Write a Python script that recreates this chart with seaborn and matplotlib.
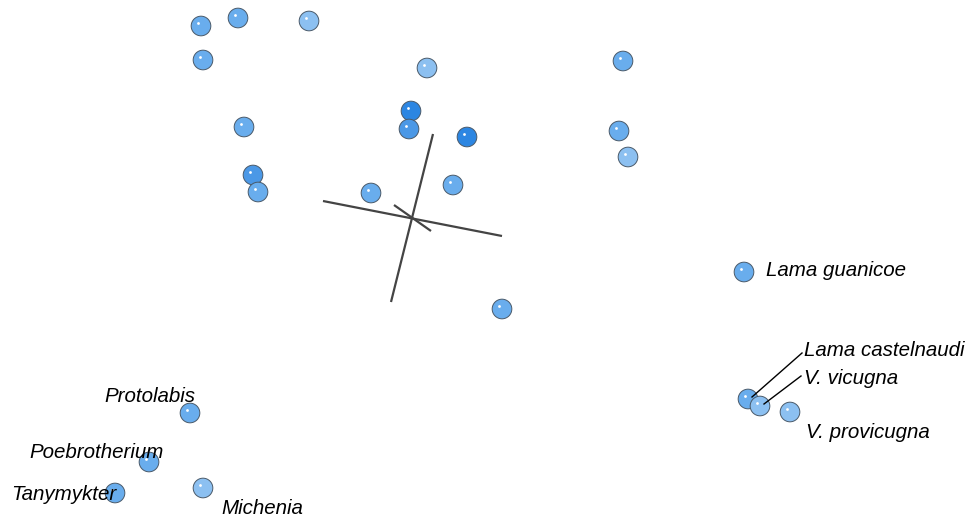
import pandas as pd
import matplotlib
matplotlib.use("Agg")
import matplotlib.pyplot as plt
import seaborn as sns

# projected point positions (screen units, y grows downwards)
px = [201, 238, 309, 203, 427, 623, 411, 409, 467, 244, 619, 628, 253, 258,
      371, 453, 502, 744, 748, 760, 790, 190, 149, 115, 203]
py = [26, 18, 21, 60, 68, 61, 111, 129, 137, 127, 131, 157, 175, 192,
      193, 185, 309, 272, 399, 406, 412, 413, 462, 493, 488]
shade = ["mid", "mid", "light", "mid", "light", "mid", "dark", "middark", "dark", "mid",
         "mid", "light", "middark", "mid", "mid", "mid", "mid", "mid", "mid", "light",
         "light", "mid", "mid", "mid", "light"]

# labelled taxa: label text, text position
lab_text = ["Lama guanicoe", "Lama castelnaudi", "V. vicugna", "V. provicugna",
            "Protolabis", "Poebrotherium", "Tanymykter", "Michenia"]
lab_x = [766, 804, 804, 806, 104, 29, 11, 221]
lab_y = [270, 350, 378, 433, 397, 452, 494, 509]
# labels with leader lines: point index -> line end
leader = {18: (802, 353), 19: (801, 376)}

# orientation cross (three projected axes)
axis_x0 = [323, 433, 394]
axis_y0 = [201, 134, 205]
axis_x1 = [502, 391, 431]
axis_y1 = [236, 302, 231]

df = pd.DataFrame({"x": px, "y": py, "shade": shade})
pal = {"dark": "#2c86e2", "middark": "#4b98e6", "mid": "#69aded", "light": "#8cc0f1"}

fig = plt.figure(figsize=(9.7, 5.22), dpi=100)
ax = fig.add_axes([0, 0, 1, 1])

for x0, y0, x1, y1 in zip(axis_x0, axis_y0, axis_x1, axis_y1):
    ax.plot([x0, x1], [y0, y1], color="#444444", lw=1.6, zorder=1, solid_capstyle="butt")

sns.scatterplot(data=df, x="x", y="y", hue="shade", palette=pal, s=200,
                edgecolor="#4a5a6a", linewidth=0.7, legend=False, ax=ax, zorder=3)
# specular highlight on each sphere
ax.scatter(df["x"] - 3, df["y"] - 3, s=4, color="white", lw=0, zorder=4)

for i, (x1, y1) in leader.items():
    ax.plot([px[i] + 4, x1], [py[i] - 2, y1], color="black", lw=1.0, zorder=5)

for t, x, y in zip(lab_text, lab_x, lab_y):
    ax.text(x, y, t, fontsize=14.8, style="italic", family="Liberation Sans",
            va="center", ha="left", color="black", zorder=6)

ax.set_xlim(0, 970)
ax.set_ylim(522, 0)
ax.axis("off")
fig.savefig("out.png", dpi=100)
